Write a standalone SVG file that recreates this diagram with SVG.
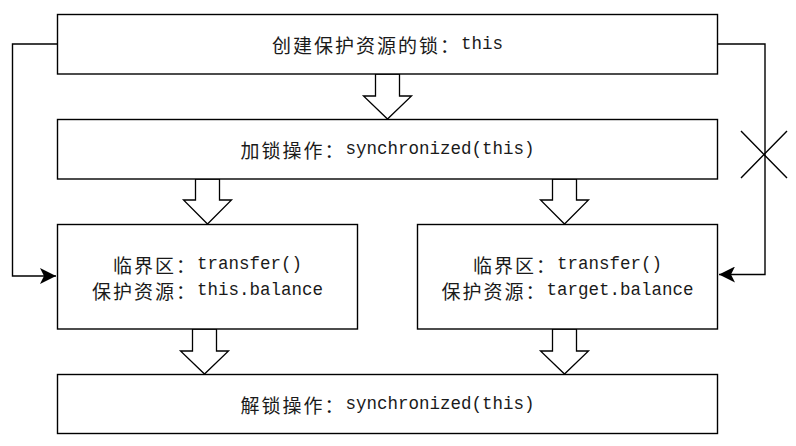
<svg xmlns="http://www.w3.org/2000/svg" width="796" height="446" viewBox="0 0 796 446">
<style>
.box{fill:#fff;stroke:#000;stroke-width:1.4}
.blk{fill:#fff;stroke:#000;stroke-width:1.3;stroke-linejoin:miter}
.ln{fill:none;stroke:#000;stroke-width:1.4}
text{font-family:"Liberation Mono","Noto Sans CJK SC",monospace;font-size:17.5px;fill:#1a1a1a;text-anchor:middle;dominant-baseline:central}
.c{font-family:"Noto Sans CJK SC","Noto Sans CJK JP",sans-serif;font-size:19px;letter-spacing:2px}
</style>
<defs>
<marker id="ah" markerWidth="17" markerHeight="16" refX="16" refY="8" orient="auto" markerUnits="userSpaceOnUse">
<path d="M0,0 L16,8 L0,16 L4,8 Z" fill="#000"/>
</marker>
</defs>
<rect width="796" height="446" fill="#fff"/>
<g id="connectors">
<path class="ln" d="M57.5,44 H12.5 V276 H56" marker-end="url(#ah)"/>
<path class="ln" d="M717.5,44 H765 V274.5 H719" marker-end="url(#ah)"/>
<path class="ln" d="M741,131 L787,178 M741,178 L787,131"/>
<path class="blk" d="M375.5,74 H399.5 V96 H411.5 L387.5,119 L363.5,96 H375.5 Z"/>
<path class="blk" d="M195.5,179 H219.5 V200 H231.5 L207.5,224 L183.5,200 H195.5 Z"/>
<path class="blk" d="M552.5,179 H576.5 V200 H588.5 L564.5,224 L540.5,200 H552.5 Z"/>
<path class="blk" d="M192.5,329 H216.5 V351 H228.5 L204.5,374 L180.5,351 H192.5 Z"/>
<path class="blk" d="M552.5,329 H576.5 V351 H588.5 L564.5,374 L540.5,351 H552.5 Z"/>
</g>
<g id="node-create">
<rect class="box" x="57.5" y="14.5" width="660" height="59.5"/>
<text x="387.5" y="44"><tspan class="c">创建保护资源的锁：</tspan>this</text>
</g>
<g id="node-lock">
<rect class="box" x="57.5" y="119.5" width="660" height="59.5"/>
<text x="387.5" y="149"><tspan class="c">加锁操作：</tspan>synchronized(this)</text>
</g>
<g id="node-critical-left">
<rect class="box" x="57.5" y="224.5" width="300" height="104.5"/>
<text x="207.5" y="264"><tspan class="c">临界区：</tspan>transfer()</text>
<text x="207.5" y="290"><tspan class="c">保护资源：</tspan>this.balance</text>
</g>
<g id="node-critical-right">
<rect class="box" x="417.5" y="224.5" width="300" height="104.5"/>
<text x="567.5" y="264"><tspan class="c">临界区：</tspan>transfer()</text>
<text x="567.5" y="290"><tspan class="c">保护资源：</tspan>target.balance</text>
</g>
<g id="node-unlock">
<rect class="box" x="57.5" y="374.5" width="660" height="59"/>
<text x="387.5" y="404"><tspan class="c">解锁操作：</tspan>synchronized(this)</text>
</g>
</svg>
